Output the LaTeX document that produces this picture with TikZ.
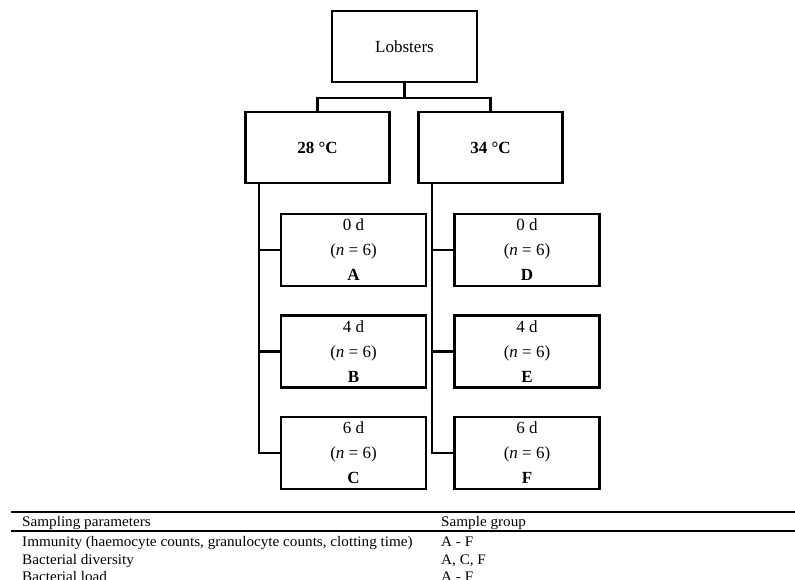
\documentclass[tikz,border=0pt]{standalone}
\usepackage{fontspec}
\setmainfont{Liberation Serif}
\newfontfamily\tabfont[FakeStretch=1.04]{Liberation Serif}
\begin{document}
\begin{tikzpicture}[x=1pt,y=-1pt,
  box/.style={draw, line width=2.3pt, rectangle, inner sep=0pt, align=center,
    font=\fontsize{17}{25}\selectfont},
  bigbox/.style={box, minimum width=144pt, minimum height=71pt},
  daybox/.style={box, minimum width=145pt, minimum height=72pt},
  conn/.style={line width=2.2pt},
  rule/.style={line width=1.1pt},
  tab/.style={anchor=base west, inner sep=0pt, font=\tabfont\fontsize{14.6}{17}\selectfont}
]
\useasboundingbox (0,0) rectangle (795,579);
\node[bigbox, minimum width=145pt] (lob) at (404.5,46.5) {Lobsters};
\node[bigbox] (t28) at (317.5,147.5) {\textbf{28 °C}};
\node[bigbox] (t34) at (490.5,147.5) {\textbf{34 °C}};
\node[daybox] (A) at (353.5,250) {0 d\\(\textit{n} = 6)\\\textbf{A}};
\node[daybox] (B) at (353.5,351.5) {4 d\\(\textit{n} = 6)\\\textbf{B}};
\node[daybox] (C) at (353.5,453) {6 d\\(\textit{n} = 6)\\\textbf{C}};
\node[daybox] (D) at (527,250) {0 d\\(\textit{n} = 6)\\\textbf{D}};
\node[daybox] (E) at (527,351.5) {4 d\\(\textit{n} = 6)\\\textbf{E}};
\node[daybox] (F) at (527,453) {6 d\\(\textit{n} = 6)\\\textbf{F}};
\draw[conn] (lob.south) -- ++(0,15) -| (t28.north);
\draw[conn] (lob.south) -- ++(0,15) -| (t34.north);
\draw[conn] ([xshift=15pt]t28.south west) |- (A.west);
\draw[conn] ([xshift=15pt]t28.south west) |- (B.west);
\draw[conn] ([xshift=15pt]t28.south west) |- (C.west);
\draw[conn] ([xshift=15pt]t34.south west) |- (D.west);
\draw[conn] ([xshift=15pt]t34.south west) |- (E.west);
\draw[conn] ([xshift=15pt]t34.south west) |- (F.west);
% table
\draw[rule] (11,512) -- (795,512);
\draw[rule] (11,531) -- (795,531);
\node[tab] (h1) at (22,526) {Sampling parameters};
\node[tab] (h2) at (441,526) {Sample group};
\node[tab] (r1a) at (22,546) {Immunity (haemocyte counts, granulocyte counts, clotting time)};
\node[tab] (r1b) at (441,546) {A - F};
\node[tab] (r2a) at (22,564) {Bacterial diversity};
\node[tab] (r2b) at (441,564) {A, C, F};
\node[tab] (r3a) at (22,581) {Bacterial load};
\node[tab] (r3b) at (441,581) {A - F};
\end{tikzpicture}
\end{document}
